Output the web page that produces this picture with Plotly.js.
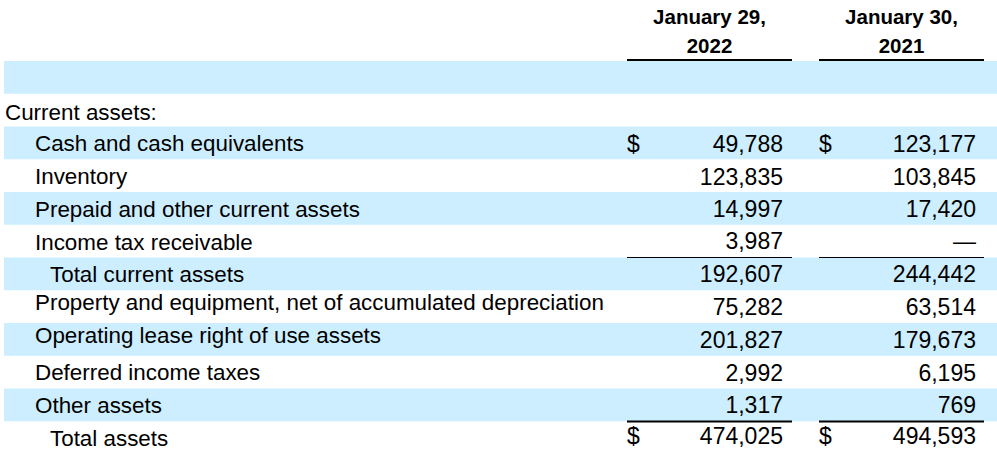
<!DOCTYPE html>
<html><head><meta charset="utf-8">
<script src="https://cdn.plot.ly/plotly-3.0.1.min.js"></script>
<style>html,body{margin:0;padding:0;background:#fff;} #chart{width:997px;height:451px;}</style>
</head><body><div id="chart"></div>
<script>
// ---- data ----
const columnHeaders = [["January 29,", "2022"], ["January 30,", "2021"]];
const rowLabels = ["", "Current assets:", "Cash and cash equivalents", "Inventory",
  "Prepaid and other current assets", "Income tax receivable", "Total current assets",
  "Property and equipment, net of accumulated depreciation", "Operating lease right of use assets",
  "Deferred income taxes", "Other assets", "Total assets"];
const values2022 = [null, null, 49788, 123835, 14997, 3987, 192607, 75282, 201827, 2992, 1317, 474025];
const values2021 = [null, null, 123177, 103845, 17420, 0, 244442, 63514, 179673, 6195, 769, 494593];
const dollarRows = ["Cash and cash equivalents", "Total assets"];
const subtotalRow = "Total current assets";
const totalRow = "Total assets";

// ---- layout / style ----
const W = 997, H = 451;
const FS = 22.4, NFS = 23, HFS = 20.5;
const FONT = "Liberation Sans, Arial, sans-serif";
const BAND = "#cceeff";
const rowTop0 = 61, pitch = 32.75;
const indentX = [5, 35, 50];
const indentLevel = [0, 0, 1, 1, 1, 1, 2, 1, 1, 1, 1, 2];
const labelDy = [0, 1.4, 0.4, 0.7, 0.3, 0.5, 0, -5, -4.4, 0, 0, 0.4];
const numberDy = [0, 0, 0.8, 0.7, 0.6, 0, 0, 0.4, 0.2, 0.8, 0.1, -2];
const colLeft = [627, 819], colRight = [792, 984], numRight = [783, 976];
const headerY = [17, 46];

const rowTop = i => rowTop0 + pitch * i;
const rowMid = i => rowTop(i) + pitch / 2;
const capShift = fs => 0.108 * fs;  // plotly middle text -> cap-centre correction
const fmt = v => v === 0 ? "\u2014" : v.toLocaleString("en-US");

const traces = [];
// header
const hx = [], hy = [], ht = [];
columnHeaders.forEach((lines, c) => lines.forEach((t, k) => {
  hx.push((colLeft[c] + colRight[c]) / 2); hy.push(headerY[k] + capShift(HFS)); ht.push(t);
}));
traces.push({type: "scatter", mode: "text", x: hx, y: hy, text: ht, textposition: "middle center",
  textfont: {family: FONT, size: HFS, color: "#000", weight: "bold"}, hoverinfo: "skip"});
// labels
const lx = [], ly = [], lt = [];
rowLabels.forEach((t, i) => { if (!t) return;
  lx.push(indentX[indentLevel[i]]); ly.push(rowMid(i) + labelDy[i] + capShift(FS)); lt.push(t); });
traces.push({type: "scatter", mode: "text", x: lx, y: ly, text: lt, textposition: "middle right",
  textfont: {family: FONT, size: FS, color: "#000"}, hoverinfo: "skip"});
// numbers
[values2022, values2021].forEach((vals, c) => {
  const nx = [], ny = [], nt = [], dx = [], dy = [], dt = [];
  vals.forEach((v, i) => { if (v === null) return;
    const y = rowMid(i) + numberDy[i] + capShift(NFS);
    nx.push(numRight[c]); ny.push(y); nt.push(fmt(v));
    if (dollarRows.includes(rowLabels[i])) { dx.push(colLeft[c]); dy.push(y); dt.push("$"); }
  });
  traces.push({type: "scatter", mode: "text", x: nx, y: ny, text: nt, textposition: "middle left",
    textfont: {family: FONT, size: NFS, color: "#000"}, hoverinfo: "skip"});
  traces.push({type: "scatter", mode: "text", x: dx, y: dy, text: dt, textposition: "middle right",
    textfont: {family: FONT, size: NFS, color: "#000"}, hoverinfo: "skip"});
});

const shapes = [];
rowLabels.forEach((t, i) => { if (i % 2 === 0)
  shapes.push({type: "rect", xref: "x", yref: "y", x0: 4, x1: W, y0: rowTop(i), y1: rowTop(i + 1),
    fillcolor: BAND, line: {width: 0}, layer: "below"}); });
const hline = (y, w) => [0, 1].forEach(c => shapes.push({type: "line", xref: "x", yref: "y",
  x0: colLeft[c], x1: colRight[c], y0: y, y1: y, line: {color: "#000", width: w}, layer: "above"}));
hline(rowTop0 - 1, 2);
hline(Math.floor(rowTop(rowLabels.indexOf(subtotalRow))) + 0.5, 1);
hline(rowTop(rowLabels.indexOf(totalRow)) + 0.3, 2);

Plotly.newPlot("chart", traces, {
  width: W, height: H, margin: {l: 0, r: 0, t: 0, b: 0},
  paper_bgcolor: "#fff", plot_bgcolor: "#fff", showlegend: false, hovermode: false,
  xaxis: {range: [0, W], visible: false, fixedrange: true},
  yaxis: {range: [H, 0], visible: false, fixedrange: true},
  shapes: shapes
}, {displayModeBar: false, staticPlot: true});
</script></body></html>
